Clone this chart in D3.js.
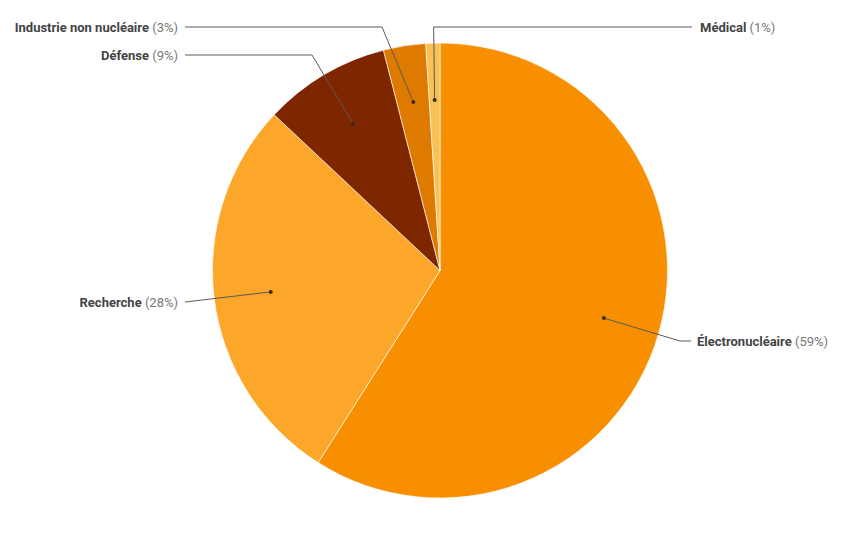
<!DOCTYPE html>
<html>
<head>
<meta charset="utf-8">
<script src="https://cdn.jsdelivr.net/npm/d3@7"></script>
<style>
  body { margin: 0; background: #fff; }
  svg { font-family: Roboto, "Open Sans", sans-serif; }
</style>
</head>
<body>
<svg width="859" height="540"></svg>
<script>
// données
var categories = ["Électronucléaire", "Recherche", "Défense", "Industrie non nucléaire", "Médical"];
var values = [59, 28, 9, 3, 1];
var colors = ["#f78f00", "#fca62a", "#7e2600", "#df7a00", "#fbc054"];
// label positions: which side + y of the leader line
var labelSide = ["right", "left", "left", "left", "right"];
var labelY = [341, 302, 55, 27, 27];

var svg = d3.select("svg");
var cx = 440, cy = 270.5, R = 227.5;

var pie = d3.pie().sort(null).value(function(d) { return d; });
var arcs = pie(values);
var arc = d3.arc().innerRadius(0).outerRadius(R);
var total = d3.sum(values);

var g = svg.append("g").attr("transform", "translate(" + cx + "," + cy + ")");

g.selectAll("path.slice")
  .data(arcs)
  .enter().append("path")
    .attr("class", "slice")
    .attr("d", arc)
    .style("fill", function(d, i) { return colors[i]; })
    .style("stroke", "#fff")
    .style("stroke-opacity", 0.6)
    .style("stroke-width", 1);

// point inside the slice at 0.75R
function dot(d) {
  var a = (d.startAngle + d.endAngle) / 2;
  var r = R * 0.75;
  return [cx + Math.sin(a) * r, cy - Math.cos(a) * r];
}

var leaders = arcs.map(function(d, i) {
  var p = dot(d);
  var y = labelY[i];
  var pts;
  if (i === 0) pts = [p, [680, y], [691, y]];
  else if (i === 1) pts = [p, [185, y]];
  else if (i === 2) pts = [p, [312, y], [185, y]];
  else if (i === 3) pts = [p, [382, y], [185, y]];
  else pts = [p, [p[0] - 1, y], [692, y]];
  return pts;
});

svg.selectAll("path.leader")
  .data(leaders)
  .enter().append("path")
    .attr("class", "leader")
    .attr("d", d3.line())
    .style("fill", "none")
    .style("stroke", "#5a5a5a")
    .style("stroke-width", 1);

svg.selectAll("circle.dot")
  .data(arcs)
  .enter().append("circle")
    .attr("class", "dot")
    .attr("cx", function(d) { return dot(d)[0]; })
    .attr("cy", function(d) { return dot(d)[1]; })
    .attr("r", 2)
    .style("fill", "#3a2a1a");

var labels = svg.selectAll("text.lbl")
  .data(arcs)
  .enter().append("text")
    .attr("class", "lbl")
    .attr("x", function(d, i) { return labelSide[i] === "right" ? (i === 0 ? 697 : 700) : 178; })
    .attr("y", function(d, i) { return labelY[i] + 4.5; })
    .attr("text-anchor", function(d, i) { return labelSide[i] === "right" ? "start" : "end"; })
    .style("font-size", "13px");

labels.append("tspan")
  .text(function(d, i) { return categories[i]; })
  .style("font-weight", "bold")
  .style("fill", "#444");

labels.append("tspan")
  .text(function(d) { return " (" + Math.round(d.value / total * 100) + "%)"; })
  .style("fill", "#777");
</script>
</body>
</html>
